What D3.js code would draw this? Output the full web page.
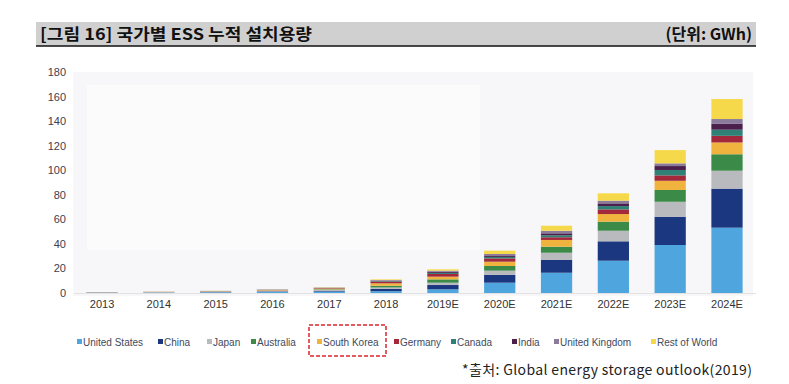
<!DOCTYPE html>
<html>
<head>
<meta charset="utf-8">
<script src="https://cdn.jsdelivr.net/npm/d3@7"></script>
<style>
  body { margin: 0; background: #fff; }
  svg { display: block; }
</style>
</head>
<body>
<div id="chart"></div>
<script>
const width = 789;
const height = 384;

// years on the x axis
const years = ["2013", "2014", "2015", "2016", "2017", "2018", "2019E", "2020E", "2021E", "2022E", "2023E", "2024E"];
const countries = ["United States", "China", "Japan", "Australia", "South Korea", "Germany", "Canada", "India", "United Kingdom", "Rest of World"];
const countryColours = ["#4fa6df", "#1b377f", "#b9babd", "#3b8a47", "#f0b33d", "#a3283b", "#2f8176", "#4b1f4c", "#8a7b9d", "#f6d94b"];

// cumulative installed GWh per country
const unitedStates  = [0.3, 0.4, 0.5, 0.9, 1.2, 1.5, 3.0, 8.4, 16.5, 26.3, 39.1, 53.2];
const china         = [0.1, 0.1, 0.2, 0.4, 0.7, 1.8, 3.5, 6.3, 10.4, 15.8, 23.0, 31.8];
const japan         = [0.2, 0.3, 0.4, 0.5, 0.7, 1.2, 1.9, 3.5, 5.9, 8.6, 12.2, 14.6];
const australia     = [0.0, 0.0, 0.1, 0.1, 0.4, 1.4, 2.7, 3.8, 4.9, 7.4, 9.6, 13.4];
const southKorea    = [0.0, 0.1, 0.2, 0.4, 0.6, 2.0, 2.2, 3.5, 5.5, 6.2, 7.5, 9.6];
const germany       = [0.1, 0.1, 0.1, 0.2, 0.4, 1.3, 2.2, 2.7, 2.2, 3.8, 4.4, 5.4];
const canada        = [0.0, 0.0, 0.1, 0.1, 0.1, 0.4, 0.9, 1.2, 1.6, 2.7, 4.4, 5.0];
const india         = [0.0, 0.0, 0.0, 0.1, 0.1, 0.3, 0.9, 1.2, 1.6, 2.2, 3.2, 5.0];
const unitedKingdom = [0.0, 0.0, 0.1, 0.1, 0.2, 0.6, 0.9, 1.2, 2.1, 2.2, 2.2, 3.7];
const restOfWorld   = [0.1, 0.1, 0.1, 0.1, 0.2, 0.6, 1.1, 2.7, 4.1, 6.0, 10.8, 16.3];

const yTicks = [0, 20, 40, 60, 80, 100, 120, 140, 160, 180];

const series = [unitedStates, china, japan, australia, southKorea, germany, canada, india, unitedKingdom, restOfWorld];
const table = years.map((y, i) => {
  const row = {year: y};
  countries.forEach((c, k) => row[c] = series[k][i]);
  return row;
});

const svg = d3.select("#chart").append("svg")
  .attr("width", width)
  .attr("height", height)
  .style("font-family", "'Liberation Sans', Arial, sans-serif");

/// Header ///
svg.append("rect")
  .attr("x", 36).attr("y", 22)
  .attr("width", 720).attr("height", 24)
  .attr("fill", "#d0d0d0");
svg.append("line")
  .attr("x1", 36).attr("x2", 756)
  .attr("y1", 46).attr("y2", 46)
  .attr("stroke", "#111").attr("stroke-width", 1.5);
svg.append("text")
  .attr("x", 40).attr("y", 40)
  .style("font-family", "'Noto Sans CJK KR', sans-serif")
  .style("font-weight", "bold")
  .style("font-size", "16px")
  .attr("textLength", 272)
  .attr("lengthAdjust", "spacingAndGlyphs")
  .attr("fill", "#111")
  .text("[그림 16] 국가별 ESS 누적 설치용량");
svg.append("text")
  .attr("x", 752).attr("y", 40)
  .attr("text-anchor", "end")
  .style("font-family", "'Noto Sans CJK KR', sans-serif")
  .style("font-weight", "bold")
  .style("font-size", "16px")
  .attr("fill", "#111")
  .text("(단위: GWh)");

/// Scales ///
const xScale = d3.scaleBand()
  .domain(years)
  .range([73.6, 755.4])
  .paddingInner(0.45)
  .paddingOuter(0.225);

const yScale = d3.scaleLinear()
  .domain([0, 180])
  .range([293, 72]);

// faint plot background (scan look)
svg.append("rect")
  .attr("x", 73).attr("y", yScale(180))
  .attr("width", 680).attr("height", yScale(0) - yScale(180) + 3)
  .attr("fill", "#f7f7f9");
svg.append("rect")
  .attr("x", 87).attr("y", 85)
  .attr("width", 393).attr("height", 165)
  .attr("fill", "#fbfbfc");

/// Axes ///
svg.append("g")
  .attr("transform", "translate(66,0)")
  .call(d3.axisLeft(yScale).tickValues(yTicks).tickSize(0).tickPadding(0))
  .call(g => g.select(".domain").remove())
  .call(g => g.selectAll("text")
    .attr("font-size", "11px")
    .attr("font-family", "'Liberation Sans', Arial, sans-serif")
    .attr("fill", "#3d4050"));

svg.append("g")
  .attr("transform", "translate(0,293)")
  .call(d3.axisBottom(xScale).tickSize(0).tickPadding(7))
  .call(g => g.select(".domain").attr("stroke", "#e2e2e2"))
  .call(g => g.selectAll("text")
    .attr("font-size", "11px")
    .attr("font-family", "'Liberation Sans', Arial, sans-serif")
    .attr("fill", "#333"));

/// Stacked bars ///
const stacked = d3.stack().keys(countries)(table);
const colour = d3.scaleOrdinal().domain(countries).range(countryColours);

svg.append("g")
  .selectAll("g")
  .data(stacked)
  .join("g")
  .attr("fill", d => colour(d.key))
  .selectAll("rect")
  .data(d => d)
  .join("rect")
  .attr("x", d => xScale(d.data.year))
  .attr("y", d => yScale(d[1]))
  .attr("width", xScale.bandwidth())
  .attr("height", d => Math.max(0, yScale(d[0]) - yScale(d[1])));

/// Legend ///
const legendX = [83, 164, 213, 257, 323, 400, 457, 518, 560, 657];
const legend = svg.append("g")
  .selectAll("g")
  .data(countries)
  .join("g")
  .attr("transform", (d, i) => `translate(${legendX[i]},342)`);
legend.append("rect")
  .attr("x", -6).attr("y", -3)
  .attr("width", 5).attr("height", 5)
  .attr("fill", d => colour(d));
legend.append("text")
  .attr("x", 0).attr("y", 0)
  .attr("dy", "0.35em")
  .attr("font-size", "10px")
  .attr("fill", "#404a60")
  .text(d => d);

// red dashed highlight round South Korea
svg.append("rect")
  .attr("x", 309).attr("y", 325)
  .attr("width", 77).attr("height", 31)
  .attr("fill", "none")
  .attr("stroke", "#d9262c")
  .attr("stroke-width", 1.5)
  .attr("stroke-dasharray", "4 2");

/// Source ///
svg.append("text")
  .attr("x", 752).attr("y", 375)
  .attr("text-anchor", "end")
  .style("font-family", "'Noto Sans CJK KR', sans-serif")
  .style("font-size", "14px")
  .attr("textLength", 290)
  .attr("lengthAdjust", "spacing")
  .attr("fill", "#222")
  .text("*출처: Global energy storage outlook(2019)");
</script>
</body>
</html>
